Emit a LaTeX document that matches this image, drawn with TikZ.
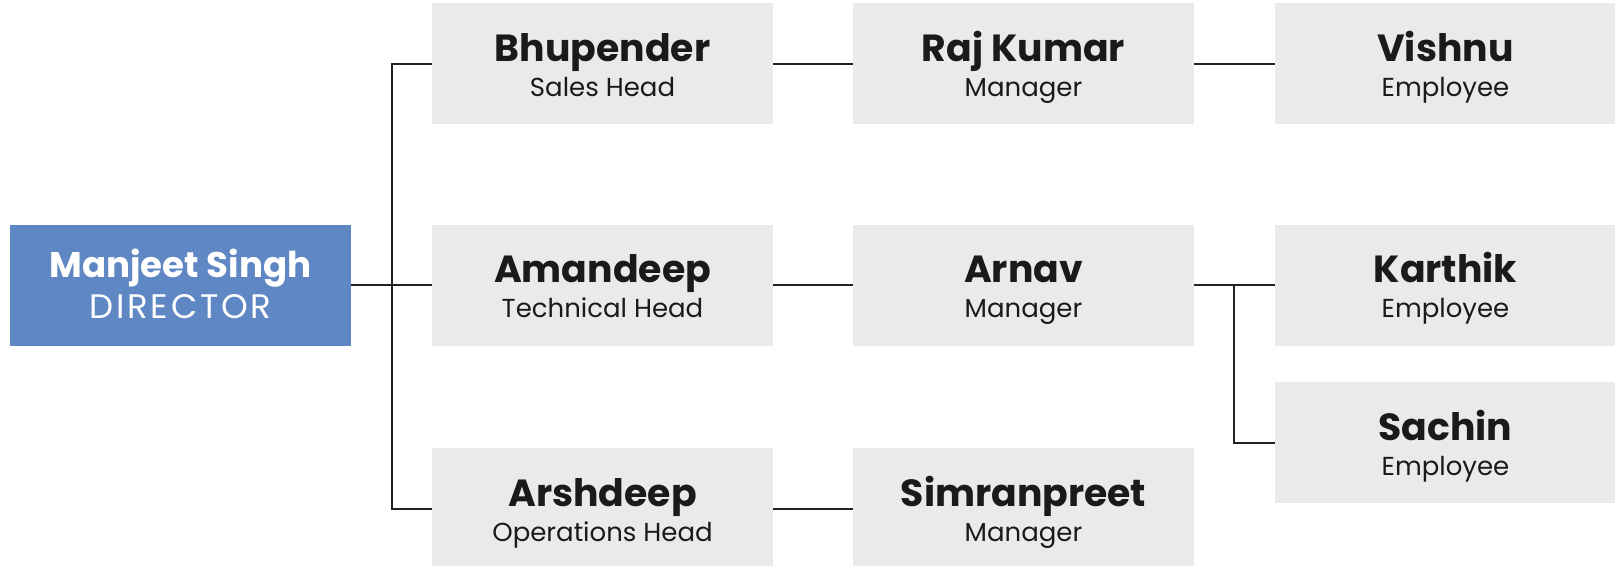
\documentclass[tikz,border=0pt]{standalone}
\usepackage{fontspec}
\setmainfont{Poppins}
\newfontfamily\dirfont[LetterSpace=8]{Poppins}
\definecolor{boxgray}{HTML}{EAEAEA}
\definecolor{dirblue}{HTML}{5E87C3}
\definecolor{txt}{HTML}{1A1A1A}
\definecolor{linec}{HTML}{222222}
\begin{document}
\begin{tikzpicture}[x=0.5pt,y=-0.5pt,
  box/.style={rectangle,fill=boxgray,draw=none,minimum width=170.5pt,minimum height=60.5pt,inner sep=0pt,outer sep=0pt},
  dirbox/.style={box,fill=dirblue},
  nm/.style={anchor=base,font=\fontsize{18.9}{20}\selectfont\bfseries,text=txt,inner sep=0pt},
  rl/.style={anchor=base,font=\fontsize{13}{14}\selectfont,text=txt,inner sep=0pt},
  conn/.style={draw=linec,line width=1pt}]
\useasboundingbox (0,0) rectangle (1615,566);
% boxes
\node[dirbox] (dir) at (180.5,285.5) {};
\node[box] (bhu) at (602.5,64) {};
\node[box] (ama) at (602.5,285.5) {};
\node[box] (ars) at (602.5,508.5) {};
\node[box] (raj) at (1023.5,64) {};
\node[box] (arn) at (1023.5,285.5) {};
\node[box] (sim) at (1023.5,508.5) {};
\node[box] (vis) at (1445.5,64) {};
\node[box] (kar) at (1445.5,285.5) {};
\node[box] (sac) at (1445.5,442.5) {};
% labels
\node[nm,text=white,font=\fontsize{17.8}{20}\selectfont\bfseries] (dirn) at ([yshift=3.75pt]dir.center) {Manjeet Singh};
\node[rl,text=white,font=\dirfont\fontsize{17}{20}\selectfont] (dirr) at ([yshift=-16.75pt]dir.center) {DIRECTOR};
\foreach \b/\n/\r in {bhu/Bhupender/Sales Head, ama/Amandeep/Technical Head, ars/Arshdeep/Operations Head,
  raj/Raj Kumar/Manager, arn/Arnav/Manager, sim/Simranpreet/Manager,
  vis/Vishnu/Employee, kar/Karthik/Employee, sac/Sachin/Employee}{
  \node[nm] (\b n) at ([yshift=1.25pt]\b.center) {\n};
  \node[rl] (\b r) at ([yshift=-16.25pt]\b.center) {\r};
}
% connectors
\coordinate (tr) at (392,0);
\coordinate (br) at (1234,0);
\draw[conn] (dir.east) -- (ama.west);
\draw[conn] (bhu.west) -- (bhu.west -| tr) -- (ars.west -| tr) -- (ars.west);
\draw[conn] (bhu.east) -- (raj.west);
\draw[conn] (raj.east) -- (vis.west);
\draw[conn] (ama.east) -- (arn.west);
\draw[conn] (ars.east) -- (sim.west);
\draw[conn] (arn.east) -- (kar.west);
\draw[conn] (arn.east -| br) -- (sac.west -| br) -- (sac.west);
\end{tikzpicture}
\end{document}
